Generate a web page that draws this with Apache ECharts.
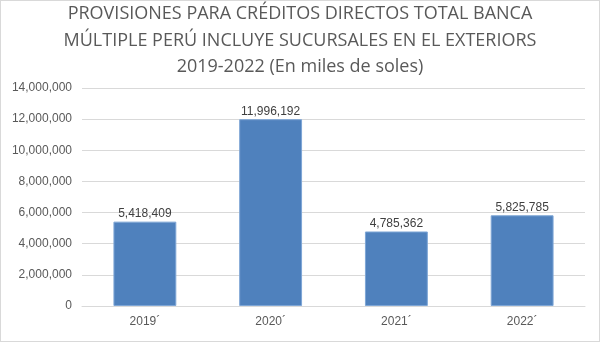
<!DOCTYPE html>
<html><head><meta charset="utf-8">
<script src="https://cdn.jsdelivr.net/npm/echarts@6/dist/echarts.min.js"></script>
<style>html,body{margin:0;padding:0;background:#fff}#c{width:600px;height:342px;box-sizing:border-box;border:1px solid #d9d9d9}</style>
</head><body><div id="c"></div>
<script>
var categories = ["2019´", "2020´", "2021´", "2022´"];
var values = [5418409, 11996192, 4785362, 5825785];
var titleLines = ["PROVISIONES PARA CRÉDITOS DIRECTOS TOTAL BANCA", "MÚLTIPLE PERÚ INCLUYE SUCURSALES EN EL EXTERIORS", "2019-2022 (En miles de soles)"];
var chart = echarts.init(document.getElementById('c'));
function fmt(v){return Number(v).toLocaleString('en-US');}
chart.setOption({
  animation:false,
  title:{text:titleLines.join('\n'),left:'center',top:0,padding:0,textStyle:{fontFamily:'Open Sans',fontWeight:'normal',fontSize:18,color:'#595959',lineHeight:26.5}},
  grid:{left:81,right:14,top:87,bottom:35,containLabel:false},
  xAxis:{type:'category',data:categories,axisTick:{show:false},axisLine:{lineStyle:{color:'#d9d9d9'}},axisLabel:{color:'#595959',fontSize:12,fontFamily:'Liberation Sans',margin:10}},
  yAxis:{type:'value',min:0,max:14000000,interval:2000000,axisLabel:{color:'#595959',fontSize:12,fontFamily:'Liberation Sans',margin:10,formatter:fmt},splitLine:{lineStyle:{color:'#d9d9d9'}},axisLine:{show:false},axisTick:{show:false}},
  series:[{type:'bar',data:values,barWidth:'50%',itemStyle:{color:'#4f81bd',borderColor:'#7ea6d6',borderWidth:1},label:{show:true,position:'top',distance:2,color:'#404040',fontSize:12,fontFamily:'Liberation Sans',formatter:function(p){return fmt(p.value);}}}]
});
</script></body></html>
